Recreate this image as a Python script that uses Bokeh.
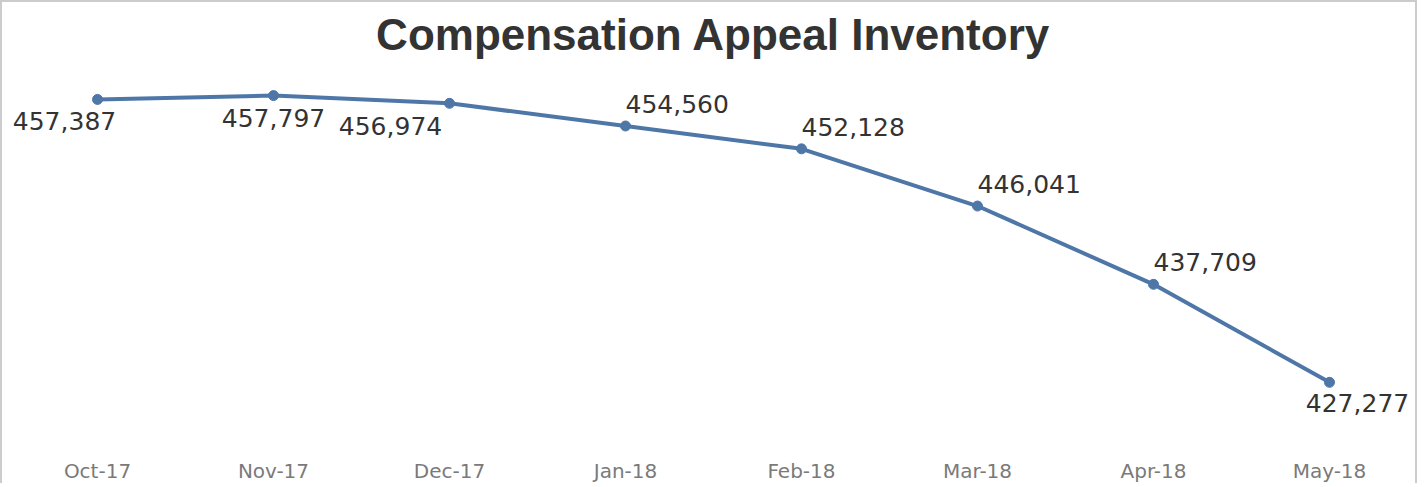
from bokeh.plotting import figure
from bokeh.models import ColumnDataSource, Range1d, FactorRange
from bokeh.core.properties import value
from bokeh.embed import file_html
from bokeh.resources import INLINE

months = ["Oct-17", "Nov-17", "Dec-17", "Jan-18", "Feb-18", "Mar-18", "Apr-18", "May-18"]
inventory = [457387, 457797, 456974, 454560, 452128, 446041, 437709, 427277]

# label placement (style only); screen pixels, positive dy = downward
label_dx = [-33, 0, -59, 0, 0, 0, 0, 28]
label_dy = [22, 22, 23, -22, -22, -22, -22, 21]
label_align = ["center", "center", "center", "left", "left", "left", "left", "center"]

src = ColumnDataSource(dict(
    x=months, y=inventory,
    txt=[f"{v:,}" for v in inventory],
    dx=label_dx, dy=label_dy, al=label_align,
))

p = figure(width=1417, height=483, x_range=FactorRange(*months),
           y_range=Range1d(420341, 461212),
           output_backend="svg", toolbar_location=None,
           min_border_left=7, min_border_right=2, min_border_top=5, min_border_bottom=29)

p.styles = {"border-top": "2px solid #cccccc", "border-left": "2px solid #cccccc",
            "border-right": "2px solid #cccccc"}

p.title.text = "Compensation Appeal Inventory"
p.title.align = "center"
p.title.text_font = "Liberation Sans"
p.title.text_font_size = "44px"
p.title.text_font_style = "bold"
p.title.text_color = "#333333"

p.line("x", "y", source=src, line_color="#4e77a8", line_width=4)
p.scatter("x", "y", source=src, size=10, fill_color="#4e77a8", line_color="#4e77a8")

p.text("x", "y", text="txt", source=src, x_offset="dx", y_offset="dy",
       text_align="al", text_baseline="middle",
       text_font_size="25px", text_font=value("DejaVu Sans"), text_color="#333333")

p.yaxis.visible = False
p.xaxis.axis_line_color = None
p.xaxis.major_tick_line_color = None
p.xaxis.minor_tick_line_color = None
p.xaxis.major_label_text_font = "DejaVu Sans"
p.xaxis.major_label_text_font_size = "20px"
p.xaxis.major_label_text_color = "#7a7a7a"
p.xaxis.major_label_standoff = 5
p.xgrid.visible = False
p.ygrid.visible = False
p.outline_line_color = None

open("out.html", "w").write(file_html(p, INLINE))
